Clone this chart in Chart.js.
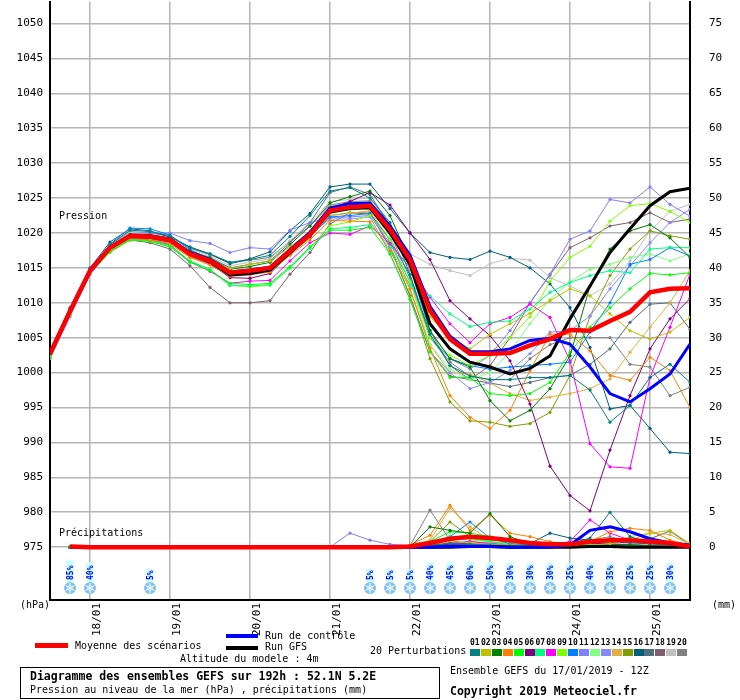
<!DOCTYPE html>
<html>
<head>
<meta charset="utf-8">
<script src="https://cdn.jsdelivr.net/npm/chart.js@4.4.1/dist/chart.umd.min.js"></script>
<style>
  body { margin: 0; background: #fff; width: 740px; height: 700px; position: relative; overflow: hidden;
         font-family: "DejaVu Sans Mono", monospace; font-size: 10px; color: #000; }
  #c { position: absolute; left: 0; top: 0; }
  .t { position: absolute; white-space: nowrap; line-height: 1; }
  .sw { position: absolute; }
  .b { font-weight: bold; font-size: 11.5px; }
  #box { position: absolute; left: 20px; top: 667px; width: 418px; height: 30px; border: 1.5px solid #000; }
</style>
</head>
<body>
<canvas id="c" width="740" height="640"></canvas>

<div class="t" style="left:59px;top:211px">Pression</div>
<div class="t" style="left:59px;top:528px">Précipitations</div>
<div class="t" style="left:20px;top:600px">(hPa)</div>
<div class="t" style="left:712px;top:600px">(mm)</div>

<div class="sw" style="left:35px;top:643px;width:33px;height:5px;background:#ff0000"></div>
<div class="t" style="left:75px;top:641px">Moyenne des scénarios</div>
<div class="sw" style="left:226px;top:634px;width:32px;height:4px;background:#0000ff"></div>
<div class="t" style="left:265px;top:631px">Run de contrôle</div>
<div class="sw" style="left:226px;top:646px;width:32px;height:4px;background:#000"></div>
<div class="t" style="left:265px;top:642px">Run GFS</div>
<div class="t" style="left:370px;top:646px">20 Perturbations</div>
<div id="perts"></div>
<div class="t" style="left:180px;top:654px">Altitude du modele : 4m</div>

<div id="box"></div>
<div class="t b" style="left:30px;top:671px">Diagramme des ensembles GEFS sur 192h : 52.1N 5.2E</div>
<div class="t" style="left:30px;top:685px">Pression au niveau de la mer (hPa) , précipitations (mm)</div>
<div class="t" style="left:450px;top:666px">Ensemble GEFS du 17/01/2019 - 12Z</div>
<div class="t b" style="left:450px;top:686px">Copyright 2019 Meteociel.fr</div>

<script>
// time axis: hours after 17/01 12Z
const hours = [0,6,12,18,24,30,36,42,48,54,60,66,72,78,84,90,96,102,108,114,120,126,132,138,144,150,156,162,168,174,180,186,192];
const dayTickHours = [12,36,60,84,108,132,156,180];
const dayLabels = ['18/01','19/01','20/01','21/01','22/01','23/01','24/01','25/01'];
const pressureTicks = [975,980,985,990,995,1000,1005,1010,1015,1020,1025,1030,1035,1040,1045,1050];
const rainTicks = [0,5,10,15,20,25,30,35,40,45,50,55,60,65,70,75];

// snow probability icons
const snowHours = [6,12,30,96,102,108,114,120,126,132,138,144,150,156,162,168,174,180,186];
const snowPct = [85,40,5,5,5,5,40,45,60,50,30,30,30,25,40,35,25,25,30];

// sea level pressure (hPa)
const presMean = [1002.7,1008.8,1014.6,1017.9,1019.6,1019.5,1019.0,1017.0,1016.0,1014.3,1014.6,1015.0,1017.4,1019.8,1023.2,1023.7,1023.9,1020.5,1016.2,1008.9,1004.8,1002.7,1002.7,1002.8,1003.9,1004.8,1006.1,1006.0,1007.4,1008.7,1011.5,1012.0,1012.1];
const presCtrl = [1002.7,1008.8,1014.6,1017.9,1019.7,1019.6,1019.1,1017.2,1016.2,1014.4,1014.7,1015.1,1017.6,1020.1,1023.6,1024.2,1024.3,1021.0,1016.8,1009.5,1005.2,1003.0,1003.0,1003.4,1004.6,1004.9,1004.1,1000.8,997.0,995.8,997.7,999.8,1004.1];
const presGfs = [1002.6,1008.7,1014.5,1017.8,1019.5,1019.4,1018.9,1017.0,1015.9,1014.0,1014.2,1014.7,1017.2,1019.8,1023.0,1023.5,1023.6,1020.0,1015.5,1007.0,1003.4,1001.5,1000.8,999.8,1000.6,1002.4,1007.7,1012.4,1017.2,1020.6,1023.9,1025.9,1026.4];
const pres01 = [1003.2,1009.2,1014.8,1018.3,1020.4,1020.2,1019.6,1017.9,1017.0,1015.8,1016.2,1016.8,1019.5,1022.5,1026.0,1026.5,1025.0,1021.5,1014.0,1005.5,1001.0,999.5,999.0,999.0,999.3,999.3,999.6,997.5,992.9,995.3,999.3,1001.2,998.6];
const pres02 = [1002.5,1008.5,1014.4,1017.6,1019.3,1019.2,1018.7,1016.9,1016.0,1014.9,1015.5,1016.0,1018.0,1020.2,1023.8,1024.0,1024.4,1021.0,1015.0,1008.0,1005.0,1003.4,1005.5,1007.0,1008.5,1010.3,1012.0,1011.0,1008.4,1006.0,1004.8,1005.8,1007.9];
const pres03 = [1002.9,1008.9,1014.7,1018.1,1019.8,1019.7,1019.2,1017.4,1016.4,1014.8,1015.2,1015.8,1018.3,1021.0,1024.3,1025.2,1026.0,1022.5,1016.0,1006.0,1002.0,1000.8,996.0,993.1,994.6,997.7,1002.4,1012.4,1017.7,1020.3,1021.2,1019.3,1016.5];
const pres04 = [1002.6,1008.6,1014.5,1017.5,1019.2,1019.0,1018.5,1016.5,1015.4,1013.8,1014.0,1014.4,1016.8,1019.0,1021.8,1021.7,1021.6,1017.5,1012.0,1003.5,996.7,993.6,992.0,994.6,1000.3,1005.5,1005.5,1003.1,999.6,998.9,1002.2,1000.3,995.0];
const pres05 = [1002.3,1008.4,1014.3,1017.3,1019.0,1018.8,1018.0,1015.8,1014.6,1012.8,1012.6,1012.8,1015.2,1018.0,1020.4,1020.4,1020.8,1017.0,1010.5,1003.0,999.3,999.3,997.0,996.7,997.0,998.6,1002.9,1006.5,1009.3,1012.0,1014.2,1014.0,1014.3];
const pres06 = [1002.8,1008.8,1014.6,1017.8,1019.5,1019.3,1018.8,1016.8,1015.6,1013.6,1013.5,1014.2,1017.0,1019.5,1023.5,1024.5,1025.8,1024.0,1020.0,1016.2,1010.3,1007.7,1005.3,1001.7,995.5,986.6,982.4,980.2,988.9,996.7,1003.4,1007.7,1010.6];
const pres07 = [1002.4,1008.5,1014.4,1017.4,1019.1,1018.9,1018.2,1016.0,1014.8,1012.5,1012.4,1012.6,1015.0,1017.8,1020.6,1020.8,1021.2,1018.0,1012.5,1011.0,1008.4,1006.6,1007.2,1007.4,1009.1,1011.5,1012.9,1013.9,1014.6,1014.3,1017.7,1017.9,1017.9];
const pres08 = [1002.5,1008.6,1014.5,1017.6,1019.3,1019.0,1018.3,1015.9,1014.5,1012.8,1013.1,1013.2,1016.0,1018.6,1020.0,1019.8,1021.0,1018.5,1015.0,1010.8,1007.0,1004.3,1007.0,1007.9,1009.8,1007.9,1001.7,989.8,986.5,986.3,999.3,1006.5,1014.1];
const pres09 = [1002.2,1008.3,1014.3,1017.4,1019.1,1018.8,1018.1,1015.9,1014.7,1012.5,1012.3,1012.5,1015.0,1018.0,1021.0,1021.6,1022.5,1019.0,1013.0,1005.0,1002.5,1001.0,1002.5,1005.0,1008.0,1013.1,1016.5,1018.1,1021.7,1023.9,1024.2,1023.1,1021.5];
const pres10 = [1002.9,1009.1,1014.9,1018.4,1020.7,1020.6,1019.7,1017.6,1016.3,1014.0,1014.2,1014.6,1017.0,1019.5,1022.3,1022.5,1022.8,1019.0,1014.0,1005.0,1002.0,1001.0,1000.5,1000.8,1001.0,1001.2,1001.5,1005.8,1010.0,1015.5,1016.2,1017.9,1016.7];
const pres11 = [1002.0,1008.0,1014.0,1017.5,1019.8,1019.9,1020.0,1018.9,1018.5,1017.2,1017.9,1017.7,1020.4,1021.5,1022.2,1022.3,1022.5,1018.5,1013.0,1006.0,1002.0,1000.5,1002.5,1006.0,1010.0,1014.1,1019.1,1020.3,1024.8,1024.3,1026.6,1024.1,1022.4];
const pres12 = [1002.6,1008.7,1014.6,1017.8,1019.5,1019.4,1018.9,1016.8,1015.7,1013.9,1014.2,1014.8,1017.3,1019.5,1022.8,1023.3,1023.5,1019.5,1013.0,1004.0,1000.5,999.0,1000.0,1003.0,1007.0,1010.5,1013.0,1014.8,1015.5,1016.5,1017.0,1016.0,1017.0];
const pres13 = [1002.1,1008.2,1014.2,1017.6,1019.4,1019.4,1018.8,1016.9,1015.9,1014.2,1014.3,1014.6,1017.2,1019.8,1022.0,1022.0,1022.3,1017.0,1010.5,1003.0,1000.0,997.7,998.6,1000.3,1002.7,1005.8,1006.0,1008.1,1012.0,1015.3,1018.6,1021.5,1023.4];
const pres14 = [1002.4,1008.4,1014.3,1017.2,1019.0,1018.9,1018.4,1016.5,1015.5,1013.9,1014.2,1014.7,1017.2,1019.6,1022.5,1022.8,1023.2,1019.0,1012.0,1004.0,1000.0,999.8,998.5,997.0,996.0,996.5,997.0,997.7,999.1,1002.9,1006.5,1010.0,1014.6];
const pres15 = [1002.5,1008.6,1014.5,1017.5,1019.2,1019.1,1018.6,1016.6,1015.6,1014.0,1014.3,1014.7,1017.0,1019.3,1022.5,1022.9,1023.0,1018.0,1011.0,1002.0,995.8,993.1,992.9,992.3,992.7,994.3,999.6,1008.1,1013.9,1017.7,1020.3,1019.6,1019.1];
const pres16 = [1003.0,1009.3,1015.0,1018.7,1020.6,1020.3,1019.4,1018.0,1017.0,1015.6,1016.3,1017.3,1020.3,1022.8,1026.6,1027.0,1027.0,1023.5,1020.0,1017.2,1016.5,1016.2,1017.4,1016.5,1015.0,1012.7,1009.3,1003.6,994.8,995.3,992.0,988.6,988.4];
const pres17 = [1002.7,1008.9,1014.7,1017.9,1019.7,1019.6,1019.2,1017.4,1016.5,1015.0,1015.5,1016.0,1018.6,1021.5,1025.8,1026.6,1025.5,1021.0,1015.0,1006.0,1001.0,999.0,998.5,998.0,998.6,999.3,999.6,1001.2,1003.4,1007.2,1009.8,1010.0,1006.2];
const pres18 = [1002.5,1008.5,1014.4,1017.6,1019.0,1018.6,1017.7,1015.3,1012.2,1010.0,1010.0,1010.3,1014.1,1017.2,1021.3,1022.9,1022.7,1018.0,1011.0,1003.0,999.5,999.0,1001.0,1005.0,1010.0,1014.0,1017.9,1019.3,1021.0,1021.5,1022.9,1021.5,1022.0];
const pres19 = [1003.1,1009.0,1014.7,1018.2,1020.1,1019.9,1019.3,1017.7,1016.7,1015.3,1015.8,1016.3,1018.9,1021.4,1024.5,1024.8,1025.0,1021.0,1017.0,1015.5,1014.6,1013.9,1015.6,1016.4,1016.1,1013.6,1012.4,1011.0,1012.7,1016.0,1020.3,1023.1,1024.1];
const pres20 = [1002.8,1009.0,1014.8,1018.3,1020.2,1020.0,1019.5,1017.8,1016.9,1015.7,1016.1,1016.5,1018.8,1021.0,1024.0,1024.5,1024.6,1020.0,1013.5,1005.0,1001.5,999.5,999.0,999.0,1002.0,1004.0,1005.0,1005.0,1005.0,1001.2,1000.8,996.7,997.9];

// precipitation (mm / 6h), no value at the start
const rainMean = [null,0.1,0,0,0,0,0,0,0,0,0,0,0,0,0,0,0, 0,0.1,0.6,1.2,1.5,1.3,1.0,0.6,0.4,0.4,0.8,1.0,1.0,0.8,0.6,0.1];
const rainCtrl = [null,0,0,0,0,0,0,0,0,0,0,0,0,0,0,0,0, 0,0,0,0.1,0.1,0.1,0,0,0,0.3,2.4,2.9,2.2,1.2,0.6,0.3];
const rainGfs = [null,0,0,0,0,0,0,0,0,0,0,0,0,0,0,0,0, 0,0,0,0,0.1,0.1,0,0,0,0,0.1,0.1,0,0,0,0];
const rain01 = [null,0,0,0,0,0,0,0,0,0,0,0,0,0,0,0,0, 0,0,0.3,0.5,0.4,0.3,0.2,0.2,0.3,0.5,1.3,5.0,1.5,0.6,0.3,0];
const rain02 = [null,0,0,0,0,0,0,0,0,0,0,0,0,0,0,0,0, 0,0,0.2,0.8,0.6,0.4,0.3,0.2,0.2,0.2,0.3,0.5,1.0,2.0,2.4,0.5];
const rain03 = [null,0,0,0,0,0,0,0,0,0,0,0,0,0,0,0,0, 0,0,2.9,2.4,2.0,4.8,1.5,0.5,0.3,0.2,0.2,0.3,0.3,0.2,0.1,0];
const rain04 = [null,0,0,0,0,0,0,0,0,0,0,0,0,0,0,0,0, 0,0.3,1.7,6.0,2.4,4.6,2.0,1.5,0.8,0.3,0.8,2.2,2.7,2.4,1.0,0.3];
const rain05 = [null,0.1,0,0,0,0,0,0,0,0,0,0,0,0,0,0,0, 0,0,0.8,2.2,2.0,1.5,0.8,0.3,0.2,0.2,0.4,0.3,0.2,0.2,0.1,0];
const rain06 = [null,0,0,0,0,0,0,0,0,0,0,0,0,0,0,0,0, 0,0,0.2,0.4,0.5,0.3,0.2,0.2,0.3,0.5,0.6,0.4,0.3,0.2,0.1,0];
const rain07 = [null,0.1,0,0,0,0,0,0,0,0,0,0,0,0,0,0,0, 0,0,0.5,1.5,1.3,0.8,0.3,0.2,0.2,0.2,0.3,0.2,0.2,0.1,0,0];
const rain08 = [null,0,0,0,0,0,0,0,0,0,0,0,0,0,0,0,0, 0,0,0.3,0.6,0.8,0.5,0.3,0.2,0.3,0.8,3.9,2.0,1.0,0.5,0.3,0];
const rain09 = [null,0,0,0,0,0,0,0,0,0,0,0,0,0,0,0,0, 0,0,0.3,1.2,1.0,0.8,0.3,0.2,0.2,0.2,0.3,0.3,0.2,0.2,0.1,0];
const rain10 = [null,0,0,0,0,0,0,0,0,0,0,0,0,0,0,0,0, 0,0,0.6,1.5,3.6,1.3,0.5,0.3,0.2,0.3,0.5,0.4,0.3,0.2,0.1,0];
const rain11 = [null,0,0,0,0,0,0,0,0,0,0,0,0,0,0,2.0,1.0, 0.4,0.2,0.3,0.6,0.5,0.4,0.3,0.2,0.2,0.3,0.3,0.3,0.2,0.2,0.1,0];
const rain12 = [null,0,0,0,0,0,0,0,0,0,0,0,0,0,0,0,0, 0,0,0.4,1.0,1.2,0.8,0.4,0.2,0.2,0.2,0.3,0.3,0.2,0.2,0.1,0];
const rain13 = [null,0,0,0,0,0,0,0,0,0,0,0,0,0,0,0,0, 0,0,0.2,0.5,0.8,0.6,0.3,0.2,0.2,0.4,0.8,0.5,0.4,0.2,0.1,0];
const rain14 = [null,0,0,0,0,0,0,0,0,0,0,0,0,0,0,0,0, 0,0.2,1.0,5.6,2.9,1.0,0.8,0.6,0.3,0.3,0.5,0.8,1.5,2.0,1.8,0.4];
const rain15 = [null,0,0,0,0,0,0,0,0,0,0,0,0,0,0,0,0, 0,0,0.8,3.6,1.5,0.8,0.5,0.3,0.2,0.2,0.2,0.3,0.3,0.2,0.1,0];
const rain16 = [null,0,0,0,0,0,0,0,0,0,0,0,0,0,0,0,0, 0,0,0.2,0.3,0.3,0.2,0.2,0.5,2.0,1.3,1.0,0.8,0.6,0.5,0.8,0];
const rain17 = [null,0,0,0,0,0,0,0,0,0,0,0,0,0,0,0,0, 0,0,0.2,0.3,0.4,0.3,0.2,0.2,0.2,0.3,0.5,0.6,1.0,1.2,2.3,0.3];
const rain18 = [null,0,0,0,0,0,0,0,0,0,0,0,0,0,0,0,0, 0,0,0.3,0.6,0.5,0.4,0.2,0.2,0.2,0.3,0.4,0.5,0.3,0.3,0.4,0];
const rain19 = [null,0,0,0,0,0,0,0,0,0,0,0,0,0,0,0,0, 0,0,0.2,0.4,0.3,0.2,0.2,0.2,0.2,0.3,0.4,0.3,0.2,0.2,0.1,0];
const rain20 = [null,0,0,0,0,0,0,0,0,0,0,0,0,0,0,0,0, 0,0.2,5.3,1.0,0.4,0.3,0.2,0.2,0.2,0.3,1.0,1.5,0.8,0.5,0.3,0];

const pertColors = ['#008080','#c0c000','#008000','#ff8000','#00ff00','#800080','#00ff80','#ff00ff','#80ff00','#0080ff',
                    '#8080ff','#80ff80','#8888ff','#e0b040','#80a000','#006080','#507080','#806070','#c0c0c0','#808080'];
const presPerts = [pres01,pres02,pres03,pres04,pres05,pres06,pres07,pres08,pres09,pres10,pres11,pres12,pres13,pres14,pres15,pres16,pres17,pres18,pres19,pres20];
const rainPerts = [rain01,rain02,rain03,rain04,rain05,rain06,rain07,rain08,rain09,rain10,rain11,rain12,rain13,rain14,rain15,rain16,rain17,rain18,rain19,rain20];

// y range: 7 px per hPa, 975 hPa sits on 0 mm
const yMin = 967.43, yMax = 1053.14;

// legend strip for the perturbations
const perts = document.getElementById('perts');
pertColors.forEach((col, i) => {
  const num = document.createElement('div');
  num.className = 't';
  num.style.cssText = `left:${470 + i * 10.9}px;top:639px;font-size:8px;font-weight:bold`;
  num.textContent = String(i + 1).padStart(2, '0');
  perts.appendChild(num);
  const sw = document.createElement('div');
  sw.className = 'sw';
  sw.style.cssText = `left:${470 + i * 10.9}px;top:649px;width:10px;height:7px;background:${col}`;
  perts.appendChild(sw);
});

function series(vals, axis, color, width, radius, order) {
  return {
    data: hours.map((h, i) => ({ x: h, y: vals[i] })),
    yAxisID: axis,
    borderColor: color,
    backgroundColor: color,
    borderWidth: width,
    pointRadius: radius,
    pointBorderWidth: 0,
    pointHoverRadius: 0,
    tension: 0,
    fill: false,
    order: order
  };
}

let datasets = [
  series(presMean, 'y', '#ff0000', 4.5, 0, 0),
  series(rainMean, 'y2', '#ff0000', 4.5, 0, 0),
  series(presCtrl, 'y', '#0000ff', 3, 0, 1),
  series(rainCtrl, 'y2', '#0000ff', 3, 0, 1),
  series(presGfs, 'y', '#000000', 3, 0, 2),
  series(rainGfs, 'y2', '#000000', 3, 0, 2)
];
presPerts.forEach((p, i) => datasets.push(series(p, 'y', pertColors[i], 1, 1.6, 3)));
rainPerts.forEach((p, i) => datasets.push(series(p, 'y2', pertColors[i], 1, 1.6, 3)));

function drawFlake(ctx, x, y) {
  ctx.beginPath();
  ctx.arc(x, y, 6, 0, Math.PI * 2);
  ctx.fillStyle = '#7ec0ee';
  ctx.fill();
  ctx.strokeStyle = '#ffffff';
  ctx.lineWidth = 1;
  for (let k = 0; k < 3; k++) {
    const a = k * Math.PI / 3 + Math.PI / 2;
    ctx.beginPath();
    ctx.moveTo(x - Math.cos(a) * 5, y - Math.sin(a) * 5);
    ctx.lineTo(x + Math.cos(a) * 5, y + Math.sin(a) * 5);
    ctx.stroke();
  }
  ctx.beginPath();
  ctx.arc(x, y, 2.5, 0, Math.PI * 2);
  ctx.strokeStyle = '#d8f0ff';
  ctx.stroke();
}

const snowPlugin = {
  id: 'snow',
  afterDatasetsDraw(chart) {
    const ctx = chart.ctx;
    const xs = chart.scales.x;
    const bottom = chart.chartArea.bottom;
    ctx.save();
    ctx.font = 'bold 8px "DejaVu Sans Mono"';
    snowHours.forEach((h, i) => {
      const x = Math.round(xs.getPixelForValue(h));
      const label = snowPct[i] + '%';
      const w = ctx.measureText(label).width;
      const boxTop = bottom - 19 - w - 2 - snowPct[i] * 0.05;
      ctx.fillStyle = '#ccffff';
      ctx.fillRect(x - 4, boxTop, 8, bottom - 18 - boxTop);
      ctx.save();
      ctx.translate(x, bottom - 20);
      ctx.rotate(-Math.PI / 2);
      ctx.fillStyle = '#0000ff';
      ctx.textBaseline = 'middle';
      ctx.textAlign = 'left';
      ctx.fillText(label, 0, 0.5);
      ctx.restore();
      drawFlake(ctx, x, bottom - 12);
    });
    ctx.restore();
  }
};

Chart.defaults.font.family = '"DejaVu Sans Mono", monospace';
Chart.defaults.font.size = 11;
Chart.defaults.color = '#000';

const noPad = s => { s.paddingTop = 0; s.paddingBottom = 0; s.paddingLeft = 0; s.paddingRight = 0; };

new Chart(document.getElementById('c'), {
  type: 'line',
  data: { datasets: datasets },
  options: {
    responsive: false,
    animation: false,
    devicePixelRatio: 1,
    events: [],
    layout: { padding: 0 },
    plugins: { legend: { display: false }, tooltip: { enabled: false } },
    scales: {
      x: {
        type: 'linear', position: 'bottom', min: 0, max: 192,
        afterBuildTicks: s => { s.ticks = dayTickHours.map(v => ({ value: v })); },
        afterFit: s => { s.height = 40; noPad(s); },
        ticks: { autoSkip: false, minRotation: 90, maxRotation: 90, padding: 3, labelOffset: 7,
                 callback: (v, i) => dayLabels[i] },
        grid: { color: '#b4b4b4', lineWidth: 1.5, drawTicks: false },
        border: { color: '#000', width: 2 }
      },
      y: {
        type: 'linear', position: 'left', min: yMin, max: yMax,
        afterBuildTicks: s => { s.ticks = pressureTicks.map(v => ({ value: v })); },
        afterFit: s => { s.width = 50; noPad(s); },
        ticks: { padding: 7, callback: v => String(v) },
        grid: { color: '#b4b4b4', lineWidth: 1.5, drawTicks: false },
        border: { color: '#000', width: 2 }
      },
      y2: {
        type: 'linear', position: 'right', min: yMin - 975, max: yMax - 975,
        afterBuildTicks: s => { s.ticks = rainTicks.map(v => ({ value: v })); },
        afterFit: s => { s.width = 50; noPad(s); },
        ticks: { padding: 19, callback: v => String(v) },
        grid: { display: false, drawTicks: false },
        border: { color: '#000', width: 2 }
      }
    }
  },
  plugins: [snowPlugin]
});
</script>
</body>
</html>
